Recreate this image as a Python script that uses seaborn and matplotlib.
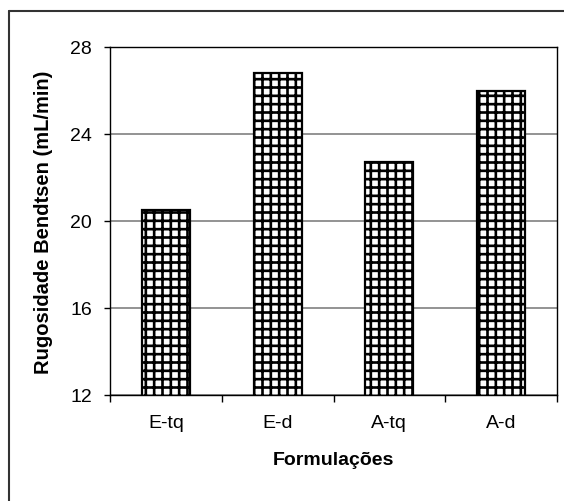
import matplotlib
matplotlib.use("Agg")
import matplotlib.pyplot as plt
import seaborn as sns
import pandas as pd
from matplotlib.lines import Line2D
from matplotlib.ticker import FixedLocator

categories = ["E-tq", "E-d", "A-tq", "A-d"]
values = [20.5, 26.8, 22.7, 26.0]
yticks = [12, 16, 20, 24, 28]

sns.set_theme(style="white")
plt.rcParams["font.family"] = ["Liberation Sans", "DejaVu Sans"]
plt.rcParams["hatch.linewidth"] = 1.9
plt.rcParams["hatch.color"] = "black"

df = pd.DataFrame({"Formulação": categories, "Valor": values})

fig = plt.figure(figsize=(5.64, 5.02), dpi=100)
fig.patch.set_facecolor("white")
ax = fig.add_axes([110 / 564, 1 - 396 / 502, (557 - 110) / 564, (396 - 48) / 502])

sns.barplot(data=df, x="Formulação", y="Valor", ax=ax, color="white",
            saturation=1, width=0.43, edgecolor="black", linewidth=1.6,
            errorbar=None)
for p in ax.patches:
    p.set_hatch("++")
    p.set_edgecolor("black")
    p.set_zorder(3)

ax.set_ylim(12, 28)
ax.set_xlim(-0.5, 3.5)
ax.set_yticks(yticks)
ax.set_yticklabels([str(t) for t in yticks])
ax.yaxis.grid(True, color="#808080", linewidth=1.2, zorder=0)
ax.set_axisbelow(True)

for s in ax.spines.values():
    s.set_visible(True)
    s.set_color("black")
    s.set_linewidth(1.0)

ax.tick_params(axis="y", which="major", direction="out", length=4, width=1,
               color="black", left=True, labelsize=14, pad=9, labelcolor="black")
ax.tick_params(axis="x", which="major", length=0, labelsize=14, pad=14,
               labelcolor="black")
ax.xaxis.set_minor_locator(FixedLocator([-0.5, 0.5, 1.5, 2.5, 3.5]))
ax.tick_params(axis="x", which="minor", direction="out", length=5, width=1,
               color="black", bottom=True)

ax.set_xlabel("Formulações", fontsize=14, fontweight="bold", labelpad=14,
              color="black")
ax.set_ylabel("Rugosidade Bendtsen (mL/min)", fontsize=14.5, fontweight="bold",
              labelpad=12, color="black")

# outer chart border (left and top visible, rest runs past the image)
x0 = 8.5 / 564
y0 = 1 - 12 / 502
fig.add_artist(Line2D([x0, x0], [-0.05, y0], transform=fig.transFigure,
                      color="#333333", linewidth=1.5))
fig.add_artist(Line2D([x0, 1.05], [y0, y0], transform=fig.transFigure,
                      color="#333333", linewidth=1.5))

fig.savefig("out.png", dpi=100, facecolor="white")
